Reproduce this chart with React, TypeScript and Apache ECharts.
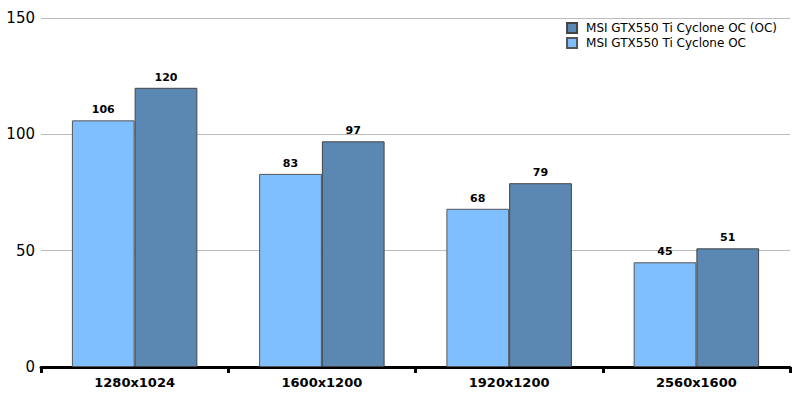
import React, { useEffect, useRef } from "react";
import * as echarts from "echarts";

const categories = ["1280x1024", "1600x1200", "1920x1200", "2560x1600"];
const stockName = "MSI GTX550 Ti Cyclone OC";
const ocName = "MSI GTX550 Ti Cyclone OC (OC)";
const stockValues = [106, 83, 68, 45];
const ocValues = [120, 97, 79, 51];

export default function App() {
  const ref = useRef<HTMLDivElement>(null);
  useEffect(() => {
    const chart = echarts.init(ref.current!, null, { renderer: "svg" });
    const font = "DejaVu Sans, Verdana, sans-serif";
    const label = {
      show: true,
      position: "top",
      color: "#000",
      fontWeight: "bold",
      fontSize: 11,
      fontFamily: font,
      distance: 5,
    };
    chart.setOption({
      animation: false,
      backgroundColor: "#fff",
      grid: { left: 41, right: 8, top: 18, bottom: 31 },
      legend: {
        orient: "vertical",
        right: 16,
        top: 17,
        data: [ocName, stockName],
        icon: "rect",
        itemWidth: 10,
        itemHeight: 10,
        itemGap: 3,
        textStyle: { fontFamily: font, fontSize: 12, color: "#000", padding: [0, 0, 0, 4] },
      },
      xAxis: {
        type: "category",
        data: categories,
        offset: 1,
        axisLine: { lineStyle: { color: "#000", width: 3 } },
        axisTick: { show: true, length: 6, lineStyle: { color: "#000", width: 3 } },
        axisLabel: {
          color: "#000",
          fontWeight: "bold",
          fontSize: 13,
          fontFamily: font,
          margin: 8,
        },
      },
      yAxis: {
        type: "value",
        min: 0,
        max: 150,
        interval: 50,
        axisLine: { show: false },
        axisTick: { show: false },
        axisLabel: { color: "#000", fontSize: 15, fontFamily: font, margin: 6 },
        splitLine: { lineStyle: { color: "#bbb", width: 1 } },
      },
      series: [
        {
          name: stockName,
          type: "bar",
          data: stockValues,
          barGap: "0%",
          barCategoryGap: "33%",
          itemStyle: { color: "#80BFFF", borderColor: "#555", borderWidth: 1 },
          label,
        },
        {
          name: ocName,
          type: "bar",
          data: ocValues,
          barGap: "0%",
          barCategoryGap: "33%",
          itemStyle: { color: "#5B87B3", borderColor: "#444", borderWidth: 1 },
          label,
        },
      ],
    });
    return () => chart.dispose();
  }, []);
  return (
    <div
      ref={ref}
      style={{ position: "fixed", left: 0, top: 0, width: 798, height: 398 }}
    />
  );
}
